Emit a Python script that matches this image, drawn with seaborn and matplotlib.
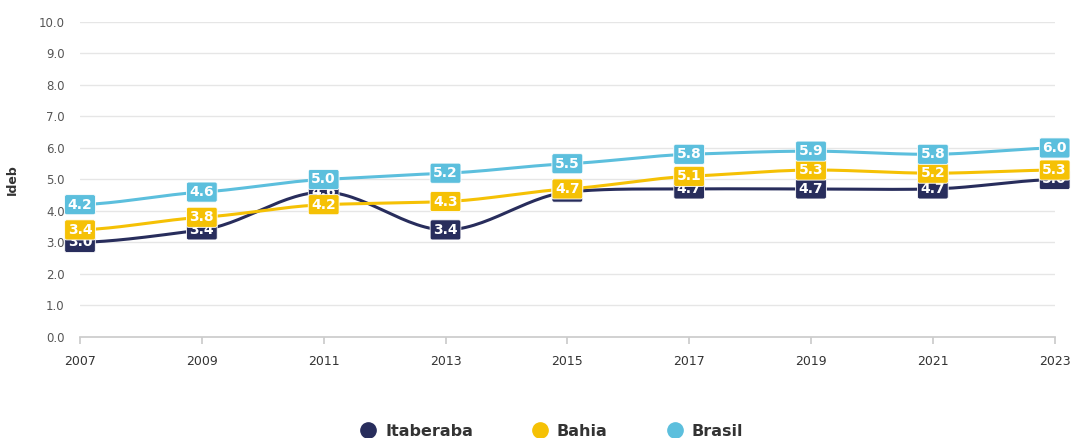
import matplotlib.pyplot as plt
import numpy as np
import pandas as pd
import seaborn as sns

anos = [2007, 2009, 2011, 2013, 2015, 2017, 2019, 2021, 2023]
itaberaba = [3.0, 3.4, 4.6, 3.4, 4.6, 4.7, 4.7, 4.7, 5.0]
bahia = [3.4, 3.8, 4.2, 4.3, 4.7, 5.1, 5.3, 5.2, 5.3]
brasil = [4.2, 4.6, 5.0, 5.2, 5.5, 5.8, 5.9, 5.8, 6.0]

series = ["Itaberaba", "Bahia", "Brasil"]
cores = {"Itaberaba": "#282d5c", "Bahia": "#f5c105", "Brasil": "#5cbfdd"}


def suaviza(x, y, n=30):
    """Curva tipo spline (Catmull-Rom) entre os pontos."""
    x = np.asarray(x, float)
    y = np.asarray(y, float)
    px = np.concatenate([[x[0]], x, [x[-1]]])
    py = np.concatenate([[y[0]], y, [y[-1]]])
    xs, ys = [], []
    for i in range(1, len(px) - 2):
        t = np.linspace(0, 1, n, endpoint=False)
        p0, p1, p2, p3 = py[i - 1], py[i], py[i + 1], py[i + 2]
        m1 = (p2 - p0) / 2 * 0.6
        m2 = (p3 - p1) / 2 * 0.6
        h00 = 2 * t**3 - 3 * t**2 + 1
        h10 = t**3 - 2 * t**2 + t
        h01 = -2 * t**3 + 3 * t**2
        h11 = t**3 - t**2
        ys.append(h00 * p1 + h10 * m1 + h01 * p2 + h11 * m2)
        xs.append(px[i] + t * (px[i + 1] - px[i]))
    xs.append([x[-1]])
    ys.append([y[-1]])
    return np.concatenate(xs), np.concatenate(ys)


dados = pd.DataFrame({"Ano": anos, "Itaberaba": itaberaba, "Bahia": bahia, "Brasil": brasil})

linhas = []
for nome in series:
    xs, ys = suaviza(dados["Ano"], dados[nome])
    linhas.append(pd.DataFrame({"Ano": xs, "Ideb": ys, "Rede": nome}))
curvas = pd.concat(linhas, ignore_index=True)

sns.set_theme(style="white")
fig, ax = plt.subplots(figsize=(10.74, 4.38), dpi=100)
fig.subplots_adjust(left=0.0745, right=0.982, bottom=0.2306, top=0.9498)

sns.lineplot(data=curvas, x="Ano", y="Ideb", hue="Rede", palette=cores,
             linewidth=2.2, sort=False, estimator=None, legend=False, ax=ax)

for k, nome in enumerate(series):
    for ano, val in zip(dados["Ano"], dados[nome]):
        ax.text(ano, val, f"{val:.1f}", ha="center", va="center", color="white",
                fontsize=10, fontweight="bold", zorder=5 + k, clip_on=False,
                bbox=dict(boxstyle="round,pad=0.22,rounding_size=0.15",
                          fc=cores[nome], ec="white", lw=0.6))

ax.set_xlim(2007, 2023)
ax.set_ylim(0, 10)
ax.set_xticks(anos)
ax.set_yticks(np.arange(0, 11, 1))
ax.set_yticklabels([f"{v:.1f}" for v in range(11)])
ax.tick_params(axis="y", labelsize=8.5, labelcolor="#555555", length=0, pad=11)
ax.tick_params(axis="x", labelsize=9, labelcolor="#333333", length=5, color="#cccccc",
               bottom=True, pad=8)
ax.grid(axis="y", color="#e6e6e6", linewidth=1)
ax.set_axisbelow(True)
for lado in ["top", "right", "left"]:
    ax.spines[lado].set_visible(False)
ax.spines["bottom"].set_color("#cccccc")
ax.set_xlabel("")
ax.set_ylabel("Ideb", fontsize=9, fontweight="bold", color="#333333", labelpad=14)

alcas = [plt.Line2D([], [], marker="o", linestyle="", markersize=11,
                    markerfacecolor=cores[n], markeredgecolor=cores[n]) for n in series]
fig.legend(alcas, series, loc="lower center", ncol=3, frameon=False,
           bbox_to_anchor=(0.51, -0.035), columnspacing=3.2, handletextpad=0.05,
           prop={"size": 11.5, "weight": "bold"}, labelcolor="#333333")

fig.savefig("out.png", dpi=100)
